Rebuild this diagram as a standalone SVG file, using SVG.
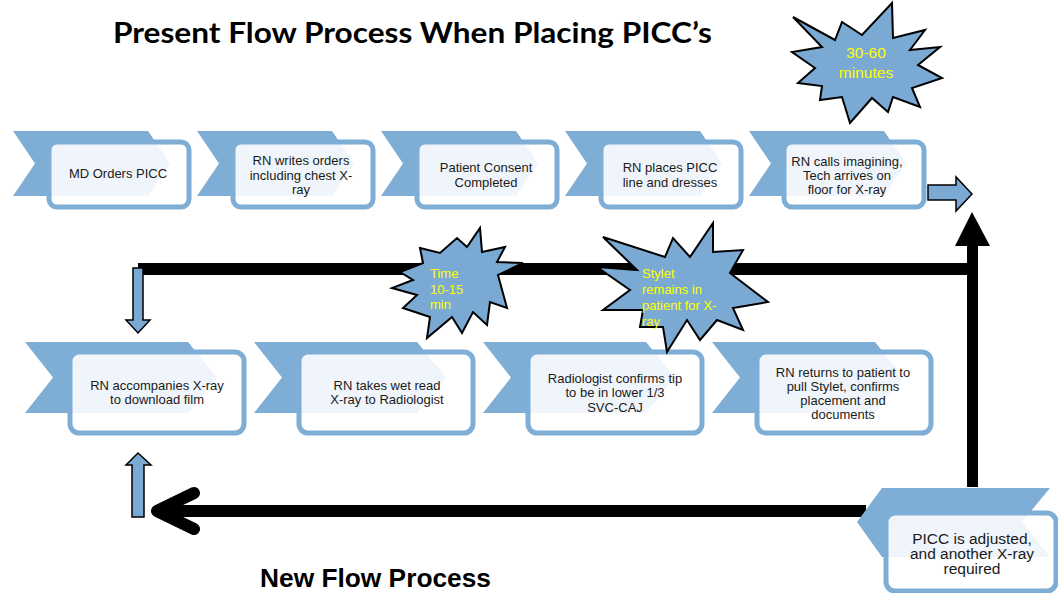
<svg xmlns="http://www.w3.org/2000/svg" width="1058" height="593" viewBox="0 0 1058 593">
  <style>
    .chev { fill: #7eaed6; }
    .box { fill: #ffffff; fill-opacity: 0.88; stroke: #7eaed6; stroke-width: 5; }
    .lbl { font-family: "Liberation Sans", Arial, sans-serif; font-size: 13px; fill: #1a1a1a; text-anchor: middle; }
    .big { font-size: 15.5px; }
    .star { fill: #7aaad4; stroke: #000; stroke-width: 2; stroke-linejoin: miter; }
    .note { font-family: "Liberation Sans", Arial, sans-serif; font-size: 13px; fill: #ffff00; }
    .note-lg { font-size: 15.5px; text-anchor: middle; }
    .bar { fill: #000; }
    .blue-arrow { fill: #7aaad4; stroke: #000; stroke-width: 1.5; stroke-linejoin: miter; }
    .title { font-weight: bold; fill: #000; }
  </style>
  <defs>
    <polygon id="chev-top" points="0,0 135,0 157,32.5 135,65 0,65 22,32.5"/>
    <polygon id="chev-bot" points="0,0 163,0 192,35.5 163,71 0,71 28,35.5"/>
  </defs>

  <rect width="1058" height="593" fill="#ffffff"/>

  <text class="title" x="113" y="43" font-family="Lato, 'Liberation Sans', sans-serif" font-size="29" textLength="599" lengthAdjust="spacingAndGlyphs">Present Flow Process When Placing PICC’s</text>
  <text class="title" x="260" y="587" font-family="'Liberation Sans', Arial, sans-serif" font-size="26" textLength="231" lengthAdjust="spacingAndGlyphs">New Flow Process</text>

  <!-- connectors -->
  <g id="connectors">
    <rect class="bar" x="138" y="263" width="840" height="12"/>
    <rect class="bar" x="967" y="240" width="11" height="247"/>
    <polygon class="bar" points="955,246 972,212 990,246"/>
    <path d="M866 511 H160" stroke="#000" stroke-width="12" fill="none"/>
    <path d="M194 493 L157 511 L194 529" stroke="#000" stroke-width="12" fill="none" stroke-linecap="round" stroke-linejoin="round"/>
    <polygon class="blue-arrow" points="133,268 143,268 143,320 150,320 138,333 126,320 133,320"/>
    <polygon class="blue-arrow" points="132,517 144,517 144,465 151,465 138,453 126,465 132,465"/>
    <polygon class="blue-arrow" stroke-width="2" points="928,185 956,185 956,177 972,194 956,211 956,200 928,200"/>
  </g>

  <!-- top row -->
  <g id="node-md-orders" transform="translate(13,131)">
    <use href="#chev-top" class="chev"/>
    <rect class="box" x="36" y="11" width="140" height="65" rx="8"/>
    <text class="lbl" x="105" y="47">MD Orders PICC</text>
  </g>
  <g id="node-rn-writes" transform="translate(197,131)">
    <use href="#chev-top" class="chev"/>
    <rect class="box" x="36" y="11" width="140" height="65" rx="8"/>
    <text class="lbl" x="104" y="34">RN writes orders</text>
    <text class="lbl" x="104" y="48.5">including chest X-</text>
    <text class="lbl" x="104" y="63">ray</text>
  </g>
  <g id="node-consent" transform="translate(381,131)">
    <use href="#chev-top" class="chev"/>
    <rect class="box" x="36" y="11" width="140" height="65" rx="8"/>
    <text class="lbl" x="105" y="41">Patient Consent</text>
    <text class="lbl" x="105" y="55.5">Completed</text>
  </g>
  <g id="node-places-picc" transform="translate(565,131)">
    <use href="#chev-top" class="chev"/>
    <rect class="box" x="36" y="11" width="140" height="65" rx="8"/>
    <text class="lbl" x="105" y="41">RN places PICC</text>
    <text class="lbl" x="105" y="55.5">line and dresses</text>
  </g>
  <g id="node-calls-imaging" transform="translate(749,131)">
    <use href="#chev-top" class="chev"/>
    <rect class="box" x="35" y="11" width="140" height="65" rx="8"/>
    <text class="lbl" x="98" y="35">RN calls imagining,</text>
    <text class="lbl" x="98" y="49">Tech arrives on</text>
    <text class="lbl" x="98" y="63">floor for X-ray</text>
  </g>

  <!-- bottom row -->
  <g id="node-accompanies" transform="translate(25,342)">
    <use href="#chev-bot" class="chev"/>
    <rect class="box" x="45" y="10" width="174" height="81" rx="9"/>
    <text class="lbl" x="132" y="47.5">RN accompanies X-ray</text>
    <text class="lbl" x="132" y="61.5">to download film</text>
  </g>
  <g id="node-wet-read" transform="translate(254,342)">
    <use href="#chev-bot" class="chev"/>
    <rect class="box" x="45" y="10" width="174" height="81" rx="9"/>
    <text class="lbl" x="133" y="47.5">RN takes wet read</text>
    <text class="lbl" x="133" y="61.5">X-ray to Radiologist</text>
  </g>
  <g id="node-radiologist" transform="translate(483,342)">
    <use href="#chev-bot" class="chev"/>
    <rect class="box" x="45" y="10" width="174" height="81" rx="9"/>
    <text class="lbl" x="132" y="40.5">Radiologist confirms tip</text>
    <text class="lbl" x="132" y="55">to be in lower 1/3</text>
    <text class="lbl" x="132" y="69.5">SVC-CAJ</text>
  </g>
  <g id="node-returns" transform="translate(712,342)">
    <use href="#chev-bot" class="chev"/>
    <rect class="box" x="45" y="10" width="174" height="81" rx="9"/>
    <text class="lbl" x="131" y="34.5">RN returns to patient to</text>
    <text class="lbl" x="131" y="48.5">pull Stylet, confirms</text>
    <text class="lbl" x="131" y="62.5">placement and</text>
    <text class="lbl" x="131" y="76.5">documents</text>
  </g>

  <!-- adjustment loop node -->
  <g id="node-adjusted">
    <polygon class="chev" points="882,488 1050,488 1022,522 1050,557 882,557 857,522"/>
    <rect class="box" x="886" y="513" width="170" height="78" rx="9"/>
    <text class="lbl big" x="972" y="543.5">PICC is adjusted,</text>
    <text class="lbl big" x="972" y="558.5">and another X-ray</text>
    <text class="lbl big" x="972" y="573.5">required</text>
  </g>

  <!-- time callouts -->
  <g id="burst-30-60">
    <polygon class="star" points="793,17 835,40 842,22 862,35 892,3 893,38 925,30 910,50 940,47 918,65 942,78 912,88 920,107 893,97 888,112 872,98 850,123 842,97 820,100 822,86 798,83 815,68 792,52 822,47"/>
    <text class="note note-lg" x="866" y="58">30-60</text>
    <text class="note note-lg" x="866" y="78">minutes</text>
  </g>
  <g id="burst-10-15">
    <polygon class="star" points="420,248 440,253 457,238 467,247 480,228 482,252 505,247 497,262 523,263 498,275 507,308 490,302 487,325 473,312 462,333 452,317 427,338 430,317 403,308 417,295 392,288 413,280 400,272 423,263"/>
    <text class="note" x="430" y="278">Time</text>
    <text class="note" x="430" y="294">10-15</text>
    <text class="note" x="430" y="309">min</text>
  </g>
  <g id="burst-stylet">
    <polygon class="star" points="603,237 665,257 673,238 690,257 713,223 713,252 743,250 730,273 768,302 733,308 743,330 717,320 700,340 687,320 667,352 663,327 640,327 643,310 603,310 630,290 597,267 637,270"/>
    <text class="note" x="642" y="278">Stylet</text>
    <text class="note" x="642" y="294">remains in</text>
    <text class="note" x="642" y="310">patient for X-</text>
    <text class="note" x="642" y="326">ray</text>
  </g>
</svg>
